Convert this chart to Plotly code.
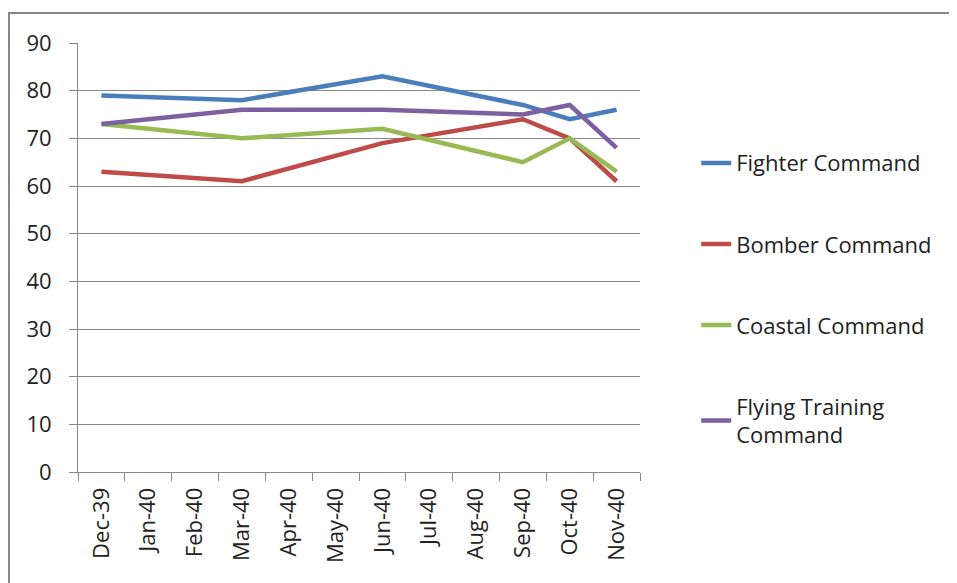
import plotly.graph_objects as go

months = ["Dec-39", "Jan-40", "Feb-40", "Mar-40", "Apr-40", "May-40",
          "Jun-40", "Jul-40", "Aug-40", "Sep-40", "Oct-40", "Nov-40"]
fighter = [79, None, None, 78, None, None, 83, None, None, 77, 74, 76]
bomber = [63, None, None, 61, None, None, 69, None, None, 74, 70, 61]
coastal = [73, None, None, 70, None, None, 72, None, None, 65, 70, 63]
training = [73, None, None, 76, None, None, 76, None, None, 75, 77, 68]

series = [
    ("Fighter Command", fighter, "#4A7EBB"),
    ("Bomber Command", bomber, "#BE4B48"),
    ("Coastal Command", coastal, "#98B954"),
    ("Flying Training<br>Command", training, "#7D60A0"),
]

fig = go.Figure()
for i, (name, vals, col) in enumerate(series):
    fig.add_trace(go.Scatter(
        x=months, y=vals, name=name, mode="lines", connectgaps=True,
        line=dict(color=col, width=4.5), legendgroup=f"g{i}"))

font = "Open Sans, Noto Sans, sans-serif"
fig.update_layout(
    width=949, height=575,
    margin=dict(l=70, r=317, t=35, b=111),
    paper_bgcolor="white", plot_bgcolor="white",
    font=dict(family=font, size=22, color="#222"),
    legend=dict(x=1.1, y=0.769, xanchor="left", yanchor="top",
                tracegroupgap=49.5, font=dict(size=22, color="#222"),
                traceorder="grouped"),
    showlegend=True,
    shapes=[dict(type="rect", xref="paper", yref="paper",
                 x0=-0.1228, x1=1.8, y0=-0.6, y1=1.07,
                 line=dict(color="#888888", width=2), fillcolor="rgba(0,0,0,0)",
                 layer="below")],
)
fig.update_xaxes(type="category", categoryorder="array", categoryarray=months,
                 tickangle=-90, showgrid=False, showline=True, linecolor="#888888",
                 linewidth=1, ticks="outside", tickson="boundaries", ticklen=8,
                 tickcolor="#888888", tickfont=dict(size=22, color="#222"),
                 ticklabelstandoff=6, range=[-0.5, 11.5])
fig.update_yaxes(range=[0, 90], dtick=10, showgrid=True, gridcolor="#888888",
                 gridwidth=1, showline=True, linecolor="#888888", linewidth=1,
                 ticks="outside", ticklen=8, tickcolor="#888888",
                 ticklabelstandoff=13,
                 tickfont=dict(size=22, color="#222"), zeroline=False)

fig.write_html("out.html")
